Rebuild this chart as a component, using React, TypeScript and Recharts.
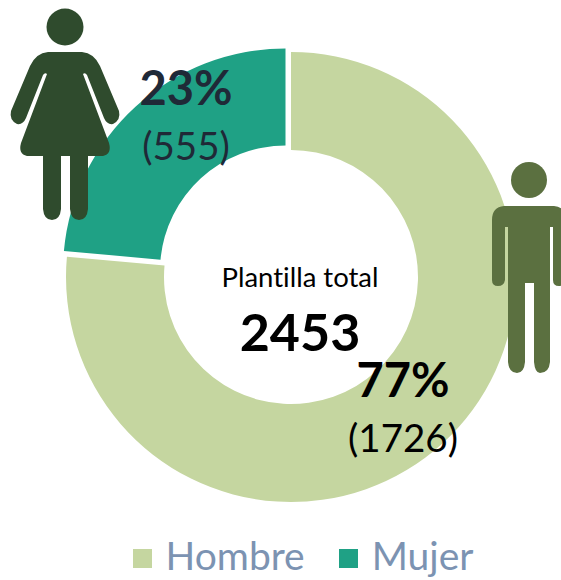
import { Cell, Legend, Pie, PieChart, Sector } from "recharts";

const categories = ["Hombre", "Mujer"];
const shares = [76.44, 23.56];
const percentLabels = ["77%", "23%"];
const countLabels = ["(1726)", "(555)"];
const totalTitle = "Plantilla total";
const totalValue = "2453";

const colors = ["#C5D6A0", "#1FA185"];
const rings = [
  { cx: 291, cy: 277, innerRadius: 127, outerRadius: 225 },
  { cx: 285.5, cy: 271, innerRadius: 125.5, outerRadius: 222.5 },
];

const data = categories.map((name, i) => ({ name, value: shares[i] }));
const font = "Lato, 'Open Sans', sans-serif";

const renderSlice = (props: any) => {
  const ring = rings[props.index] ?? rings[0];
  return <Sector {...props} {...ring} stroke="none" />;
};

const legendLabel = (value: string) => (
  <span
    style={{
      color: "#7C93B2",
      fontSize: 39,
      fontFamily: font,
      marginLeft: 10,
      marginRight: 24,
      position: "relative",
      top: 8,
      fontVariantLigatures: "none",
    }}
  >
    {value}
  </span>
);

const Woman = () => (
  <g fill="#2F4B2D">
    <circle cx={65} cy={27} r={18.5} />
    <path d="M48,52 L82,52 Q94,53 100,66 L119,111 Q121,120 113,124 Q107,125 104,118 L87,75 Q85,72 83,74 L109,143 Q112,154 103,156 L88,156 L88,209 Q87,220 79,220 Q71,220 70,209 L70,156 L61,156 L61,209 Q60,220 52,220 Q44,220 43,209 L43,156 L27,156 Q18,154 21,143 L47,74 Q45,72 43,75 L26,118 Q23,125 17,124 Q9,120 11,111 L30,66 Q36,53 48,52 Z" />
  </g>
);

const Man = () => (
  <g fill="#5B7040">
    <circle cx={529} cy={180} r={18} />
    <path d="M504,206 L554,206 Q566,207 566,220 L566,280 Q565,286 559,286 Q553,286 553,280 L553,227 L550,227 L550,362 Q549,373 540,373 Q535,373 534,362 L534,283 L525,283 L525,362 Q524,373 517,373 Q509,373 508,362 L508,227 L505,227 L505,280 Q504,286 498,286 Q492,286 492,280 L492,220 Q492,207 504,206 Z" />
  </g>
);

const App = () => {
  return (
    <div style={{ position: "absolute", left: 0, top: 0, width: 561, height: 580, background: "#fff", overflow: "hidden" }}>
      <PieChart width={561} height={580} margin={{ top: 0, right: 0, bottom: 0, left: 0 }}>
        <Pie
          data={data}
          dataKey="value"
          nameKey="name"
          cx={291}
          cy={277}
          innerRadius={127}
          outerRadius={225}
          startAngle={90}
          endAngle={-270}
          shape={renderSlice}
          isAnimationActive={false}
        >
          {categories.map((name, i) => (
            <Cell key={name} fill={colors[i]} />
          ))}
        </Pie>
        <Legend
          verticalAlign="bottom"
          iconType="square"
          iconSize={19}
          formatter={legendLabel}
          wrapperStyle={{ left: 120, bottom: 10, width: 400 }}
        />
      </PieChart>
      <svg width={561} height={580} style={{ position: "absolute", left: 0, top: 0, pointerEvents: "none" }}>
        <Woman />
        <Man />
        <g fontFamily={font} textAnchor="middle" style={{ fontVariantLigatures: "none" }}>
          <text x={186} y={105} fontSize={47} fontWeight={700} fill="#1F2937">{percentLabels[1]}</text>
          <text x={186} y={160} fontSize={38.5} fill="#1F2937">{countLabels[1]}</text>
          <text x={403} y={397} fontSize={47} fontWeight={700} fill="#000">{percentLabels[0]}</text>
          <text x={403} y={452} fontSize={38.5} fill="#000">{countLabels[0]}</text>
          <text x={300} y={287} fontSize={27.5} fill="#000">{totalTitle}</text>
          <text x={300} y={351} fontSize={52} fontWeight={700} fill="#000">{totalValue}</text>
        </g>
      </svg>
    </div>
  );
};

export default App;
